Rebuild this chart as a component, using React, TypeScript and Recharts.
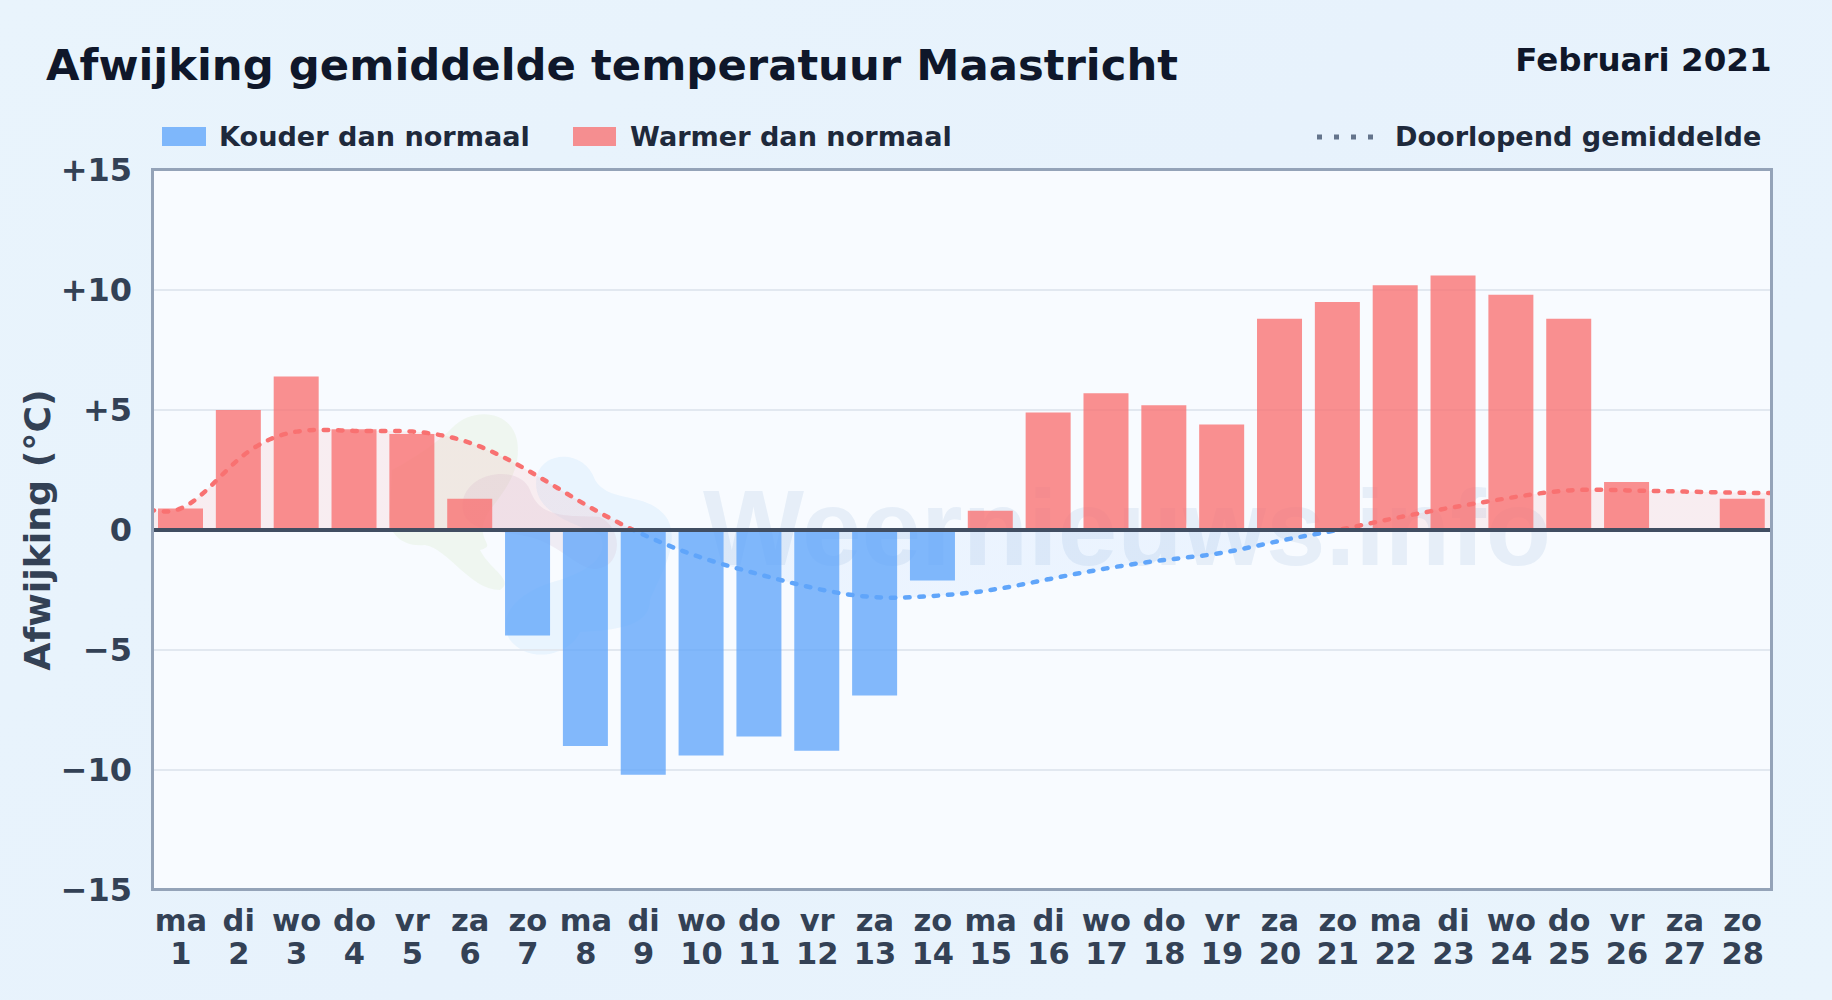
import React from "react";
import { ComposedChart, Bar, Area, XAxis, YAxis, CartesianGrid, ReferenceLine } from "recharts";

const days = [1,2,3,4,5,6,7,8,9,10,11,12,13,14,15,16,17,18,19,20,21,22,23,24,25,26,27,28];
const weekdays = ["ma","di","wo","do","vr","za","zo","ma","di","wo","do","vr","za","zo","ma","di","wo","do","vr","za","zo","ma","di","wo","do","vr","za","zo"];
const deviation = [0.9,5.0,6.4,4.2,4.0,1.3,-4.4,-9.0,-10.2,-9.4,-8.6,-9.2,-6.9,-2.1,0.8,4.9,5.7,5.2,4.4,8.8,9.5,10.2,10.6,9.8,8.8,2.0,0,1.3];
const runningMean = [0.9,2.95,4.1,4.13,4.1,3.63,2.48,1.05,-0.2,-1.15,-1.85,-2.45,-2.8,-2.75,-2.5,-2.05,-1.6,-1.25,-0.95,-0.45,0.0,0.5,0.95,1.35,1.65,1.65,1.6,1.55];
const yTicks = [-15,-10,-5,0,5,10,15];
const edgeStart = { x: 0, mean: 1.3 };
const edgeEnd = { x: 29, mean: 1.55 };

const rows = [
  { x: edgeStart.x, mean: edgeStart.mean, warm: null, cold: null },
  ...days.map((d, i) => ({
    x: d,
    mean: runningMean[i],
    warm: deviation[i] > 0 ? deviation[i] : null,
    cold: deviation[i] < 0 ? deviation[i] : null,
  })),
  { x: edgeEnd.x, mean: edgeEnd.mean, warm: null, cold: null },
];

const FONT = "'DejaVu Sans', sans-serif";
const formatY = (v: number) => (v > 0 ? `+${v}` : v < 0 ? `\u2212${Math.abs(v)}` : "0");

function DayTick(props: any) {
  const { x, y, payload } = props;
  const i = payload.value - 1;
  return (
    <text x={x} textAnchor="middle" fontFamily={FONT} fontWeight={700} fontSize={30.5} fill="#334155">
      <tspan x={x} y={y + 33}>{weekdays[i]}</tspan>
      <tspan x={x} y={y + 66}>{days[i]}</tspan>
    </text>
  );
}

function Watermark() {
  return (
    <svg width={1832} height={1000} style={{ position: "absolute", left: 0, top: 0 }}>
      <path d="M392 470 C420 455 440 440 452 428 C470 408 510 408 517 440 C522 470 505 490 490 510 C470 540 500 545 480 550 C490 570 515 580 500 590 C470 590 450 550 425 545 C400 548 385 530 390 510 Z" fill="#bfe3a0" fillOpacity={0.16} />
      <path d="M537 475 C545 450 585 450 595 480 C610 505 650 490 668 520 C680 545 660 575 650 600 C650 625 620 630 580 632 C570 655 530 665 510 640 C495 615 520 590 560 580 C590 570 610 555 600 535 C565 520 530 510 537 475 Z" fill="#bae0fb" fillOpacity={0.25} />
      <path d="M463 500 C470 470 520 465 530 490 C540 520 570 515 600 517 C625 530 620 565 600 568 C580 575 560 540 520 535 C490 530 458 530 463 500 Z" fill="#d9c7d6" fillOpacity={0.28} />
      <text x={703} y={565} fontFamily="'Liberation Sans', sans-serif" fontWeight={700} fontSize={107} fill="#7fa8d0" fillOpacity={0.15}>Weernieuws.info</text>
    </svg>
  );
}

export default function App() {
  return (
    <div style={{ position: "fixed", left: 0, top: 0, width: 1832, height: 1000, overflow: "hidden", fontFamily: FONT, background: "linear-gradient(135deg,#e9f4fc 0%,#e7f2fc 50%,#e9f4fc 100%)" }}>
      <div style={{ position: "absolute", left: 152, top: 169, width: 1619, height: 721, background: "#f8fbff" }} />
      <Watermark />
      <div style={{ position: "absolute", left: 46, top: 36.5, fontSize: 43.35, fontWeight: 700, color: "#0f172a", whiteSpace: "nowrap", lineHeight: "56px" }}>Afwijking gemiddelde temperatuur Maastricht</div>
      <div style={{ position: "absolute", right: 60.5, top: 41, fontSize: 32.5, fontWeight: 700, color: "#0f172a", whiteSpace: "nowrap", lineHeight: "38px" }}>Februari 2021</div>

      <div style={{ position: "absolute", left: 162, top: 127, width: 44, height: 19, background: "#60a5fa", opacity: 0.78 }} />
      <div style={{ position: "absolute", left: 219, top: 120, fontSize: 27.1, fontWeight: 700, color: "#1e293b", whiteSpace: "nowrap", lineHeight: "34px" }}>Kouder dan normaal</div>
      <div style={{ position: "absolute", left: 573, top: 127, width: 43, height: 19, background: "#f87171", opacity: 0.78 }} />
      <div style={{ position: "absolute", left: 630, top: 120, fontSize: 27.1, fontWeight: 700, color: "#1e293b", whiteSpace: "nowrap", lineHeight: "34px" }}>Warmer dan normaal</div>
      <svg width={60} height={8} style={{ position: "absolute", left: 1316, top: 133 }}>
        <line x1={1} y1={4} x2={58} y2={4} stroke="#64748b" strokeWidth={5} strokeDasharray="5 12" />
      </svg>
      <div style={{ position: "absolute", left: 1395, top: 120, fontSize: 27.1, fontWeight: 700, color: "#1e293b", whiteSpace: "nowrap", lineHeight: "34px" }}>Doorlopend gemiddelde</div>

      <div style={{ position: "absolute", left: 0, top: 0 }}>
        <ComposedChart width={1832} height={1000} data={rows} margin={{ top: 170, right: 60.4, bottom: 30, left: 0 }}>
          <defs>
            <linearGradient id="meanStroke" gradientUnits="userSpaceOnUse" x1="0" y1="170" x2="0" y2="890">
              <stop offset="50%" stopColor="#f87171" />
              <stop offset="50%" stopColor="#60a5fa" />
            </linearGradient>
            <linearGradient id="meanFill" gradientUnits="userSpaceOnUse" x1="0" y1="170" x2="0" y2="890">
              <stop offset="50%" stopColor="#f87171" stopOpacity={0.17} />
              <stop offset="50%" stopColor="#60a5fa" stopOpacity={0.14} />
            </linearGradient>
          </defs>
          <CartesianGrid vertical={false} stroke="#e2e8f0" strokeWidth={2} />
          <XAxis dataKey="x" type="number" domain={[0.5, 28.5]} ticks={days} interval={0} height={80} axisLine={false} tickLine={false} tick={<DayTick />} allowDataOverflow />
          <YAxis type="number" domain={[-15, 15]} ticks={yTicks} interval={0} width={152} axisLine={false} tickLine={false} tickMargin={14} tickFormatter={formatY} tick={{ fontFamily: FONT, fontWeight: 700, fontSize: 32, fill: "#334155" }}
            label={{ value: "Afwijking (°C)", angle: -90, position: "insideLeft", offset: 0, dx: 37, style: { fontFamily: FONT, fontWeight: 700, fontSize: 36.3, fill: "#334155", textAnchor: "middle" } }} />
          <Area dataKey="mean" type="natural" stroke="url(#meanStroke)" strokeWidth={4.5} strokeDasharray="4.5 9.8" strokeLinecap="round" fill="url(#meanFill)" isAnimationActive={false} dot={false} activeDot={false} connectNulls />
          <Bar dataKey="warm" stackId="dev" barSize={45} fill="#f87171" fillOpacity={0.78} isAnimationActive={false} />
          <Bar dataKey="cold" stackId="dev" barSize={45} fill="#60a5fa" fillOpacity={0.78} isAnimationActive={false} />
          <ReferenceLine y={0} stroke="#414e62" strokeWidth={4} />
        </ComposedChart>
      </div>
      <div style={{ position: "absolute", left: 151.3, top: 168.3, width: 1616, height: 717, border: "3px solid #94a3b8", pointerEvents: "none" }} />
    </div>
  );
}
